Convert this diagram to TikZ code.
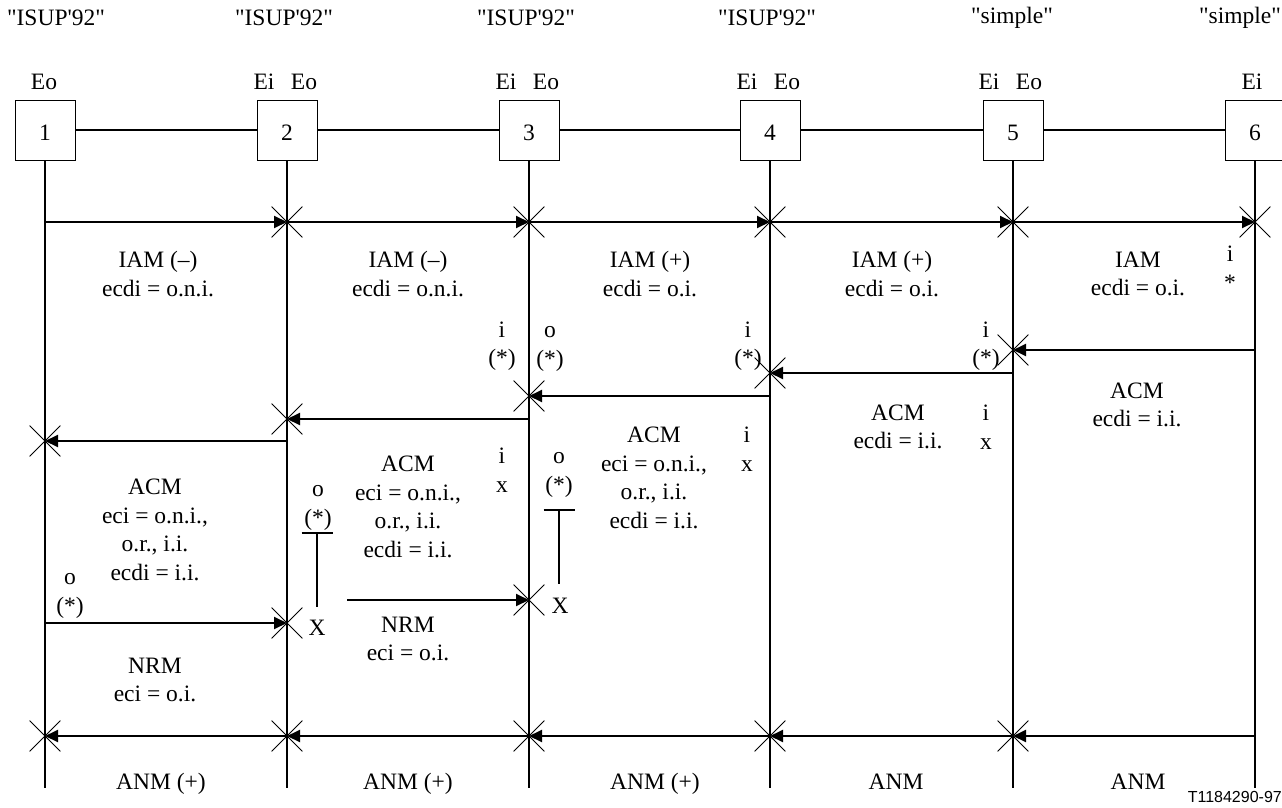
\documentclass[tikz,border=0pt]{standalone}
\usepackage{fontspec}
\setmainfont{Liberation Serif}[Ligatures=TeXOff]
\newfontfamily\labsans{Liberation Sans}
\usetikzlibrary{arrows.meta,shapes.misc}
\begin{document}
\begin{tikzpicture}[x=1pt,y=-1pt,
  every node/.style={font=\fontsize{23.5}{28.5}\selectfont, inner sep=0pt},
  box/.style={draw, line width=1pt, minimum width=60pt, minimum height=60pt, text height=21pt, text depth=0pt},
  life/.style={line width=2pt},
  link/.style={line width=2pt},
  msg/.style={line width=2pt, -{Triangle[length=13pt,width=12pt]}},
  xmark/.style={cross out, draw, line width=0.8pt, minimum size=30pt},
  tbar/.style={line width=2pt, {Bar[width=31pt,line width=2pt]}-},
  lbl/.style={align=center},
  bottomlbl/.style={anchor=base},
  idnum/.style={font=\labsans\fontsize{16}{18}\selectfont},
]
\useasboundingbox (0,0) rectangle (1282,808);
\fill[white] (0,0) rectangle (1282,808);

% exchanges
\node[box] (b1) at (45,130) {1};
\node[box] (b2) at (287,130) {2};
\node[box] (b3) at (529,130) {3};
\node[box] (b4) at (770,130) {4};
\node[box] (b5) at (1013,130) {5};
\node[box] (b6) at (1255,130) {6};
\draw[link] (b1.east) -- (b2.west);
\draw[link] (b2.east) -- (b3.west);
\draw[link] (b3.east) -- (b4.west);
\draw[link] (b4.east) -- (b5.west);
\draw[link] (b5.east) -- (b6.west);

% life lines
\foreach \i/\x in {1/45,2/287,3/529,4/770,5/1013,6/1255} {
  \coordinate (e\i) at (\x,788);
  \coordinate (iam\i) at (\x,222);
  \coordinate (anm\i) at (\x,736);
}
\foreach \i in {1,...,6} { \draw[life] (b\i.south) -- (e\i); }

% top labels
\node (s1) at (56,18) {"ISUP'92"};
\node (s2) at (284,18) {"ISUP'92"};
\node (s3) at (526,18) {"ISUP'92"};
\node (s4) at (767,18) {"ISUP'92"};
\node (s5) at (1012,18) {"simple"};
\node (s6) at (1240,18) {"simple"};
\node (o1) at (44,82) {Eo};
\node (i2) at (264,82) {Ei};
\node (o2) at (304,82) {Eo};
\node (i3) at (506,82) {Ei};
\node (o3) at (546,82) {Eo};
\node (i4) at (747,82) {Ei};
\node (o4) at (787,82) {Eo};
\node (i5) at (989,82) {Ei};
\node (o5) at (1029,82) {Eo};
\node (i6) at (1252,82) {Ei};

% IAM
\draw[msg] (iam1) -- (iam2);
\draw[msg] (iam2) -- (iam3);
\draw[msg] (iam3) -- (iam4);
\draw[msg] (iam4) -- (iam5);
\draw[msg] (iam5) -- (iam6);
\node[xmark] (xi2) at (iam2) {};
\node[xmark] (xi3) at (iam3) {};
\node[xmark] (xi4) at (iam4) {};
\node[xmark] (xi5) at (iam5) {};
\node[xmark] (xi6) at (iam6) {};
\node[lbl] (l1) at (158,274) {IAM (–)\\ecdi = o.n.i.};
\node[lbl] (l2) at (408,274) {IAM (–)\\ecdi = o.n.i.};
\node[lbl] (l3) at (650,274) {IAM (+)\\ecdi = o.i.};
\node[lbl] (l4) at (892,274) {IAM (+)\\ecdi = o.i.};
\node[lbl] (l5) at (1138,274) {IAM\\ecdi = o.i.};
\node[lbl] (m6) at (1230,268) {i\\*};

% ACM
\coordinate (c65a) at (1255,350); \coordinate (c65b) at (1013,350);
\coordinate (c54a) at (1013,373); \coordinate (c54b) at (770,373);
\coordinate (c43a) at (770,396);  \coordinate (c43b) at (529,396);
\coordinate (c32a) at (529,419);  \coordinate (c32b) at (287,419);
\coordinate (c21a) at (287,441);  \coordinate (c21b) at (45,441);
\draw[msg] (c65a) -- (c65b);
\draw[msg] (c54a) -- (c54b);
\draw[msg] (c43a) -- (c43b);
\draw[msg] (c32a) -- (c32b);
\draw[msg] (c21a) -- (c21b);
\node[xmark] (xc5) at (c65b) {};
\node[xmark] (xc4) at (c54b) {};
\node[xmark] (xc3) at (c43b) {};
\node[xmark] (xc2) at (c32b) {};
\node[xmark] (xc1) at (c21b) {};
\node[lbl] (m3i) at (502,346) {i\\(*)};
\node[lbl] (m3o) at (550,349) {o\\(*)};
\node[lbl] (m4i) at (748,346) {i\\(*)};
\node[lbl] (m5i) at (986,346) {i\\(*)};
\node[lbl] (a5) at (1137,405) {ACM\\ecdi = i.i.};
\node[lbl] (a4) at (898,427) {ACM\\ecdi = i.i.};
\node[lbl] (m5x) at (986,427) {i\\x};
\node[lbl] (a3) at (654,478) {ACM\\eci = o.n.i.,\\o.r., i.i.\\ecdi = i.i.};
\node[lbl] (m4x) at (747,449) {i\\x};
\node[lbl] (m3x) at (502,470) {i\\x};
\node[lbl] (m3t) at (559,475) {o\\(*)};
\node[lbl] (a2) at (408,507) {ACM\\eci = o.n.i.,\\o.r., i.i.\\ecdi = i.i.};
\node[lbl] (m2t) at (318,508) {o\\(*)};
\node[lbl] (a1) at (155,530) {ACM\\eci = o.n.i.,\\o.r., i.i.\\ecdi = i.i.};
\node[lbl] (m1o) at (70,596) {o\\(*)};

% release attempts
\coordinate (t1a) at (317,532); \coordinate (t1b) at (317,607);
\coordinate (t2a) at (559,509); \coordinate (t2b) at (559,584);
\draw[tbar] (t1a) -- (t1b);
\draw[tbar] (t2a) -- (t2b);

% NRM
\coordinate (n1a) at (45,623);  \coordinate (n1b) at (287,623);
\coordinate (n2a) at (347,600); \coordinate (n2b) at (529,600);
\draw[msg] (n1a) -- (n1b);
\draw[msg] (n2a) -- (n2b);
\node[xmark] (xn1) at (n1b) {};
\node[xmark] (xn2) at (n2b) {};
\node (X1) at (317,628) {X};
\node (X2) at (560,606) {X};
\node[lbl] (r2) at (408,639) {NRM\\eci = o.i.};
\node[lbl] (r1) at (155,680) {NRM\\eci = o.i.};

% ANM
\draw[msg] (anm6) -- (anm5);
\draw[msg] (anm5) -- (anm4);
\draw[msg] (anm4) -- (anm3);
\draw[msg] (anm3) -- (anm2);
\draw[msg] (anm2) -- (anm1);
\node[xmark] (xa5) at (anm5) {};
\node[xmark] (xa4) at (anm4) {};
\node[xmark] (xa3) at (anm3) {};
\node[xmark] (xa2) at (anm2) {};
\node[xmark] (xa1) at (anm1) {};
\node[bottomlbl] (n1) at (161,789) {ANM (+)};
\node[bottomlbl] (n2) at (408,789) {ANM (+)};
\node[bottomlbl] (n3) at (655,789) {ANM (+)};
\node[bottomlbl] (n4) at (896,789) {ANM};
\node[bottomlbl] (n5) at (1138,789) {ANM};
\node[idnum, anchor=east] (id) at (1282,797) {T1184290-97};
\end{tikzpicture}
\end{document}
